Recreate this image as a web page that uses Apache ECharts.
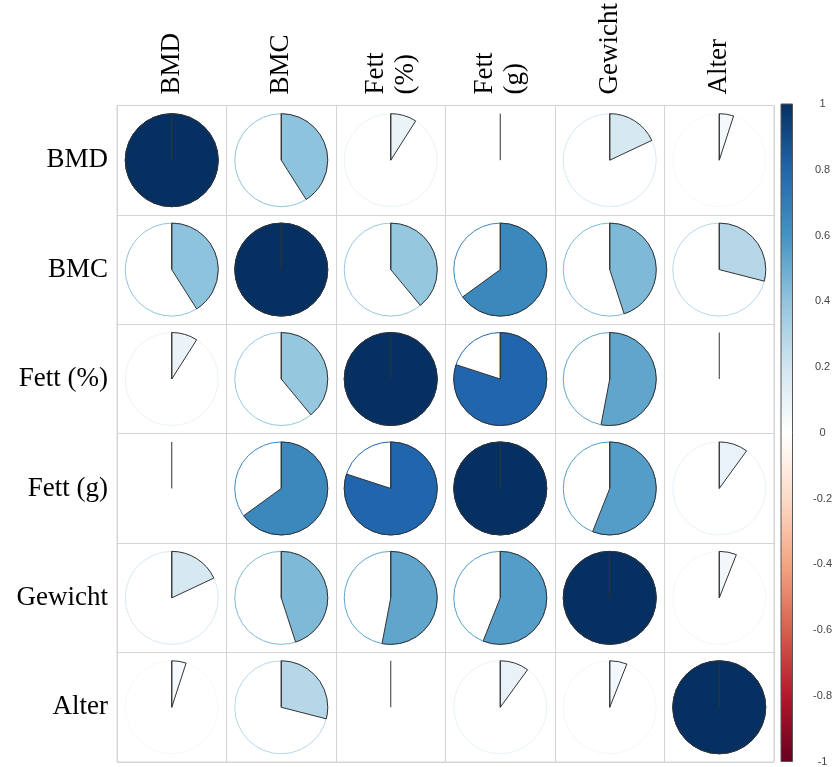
<!DOCTYPE html>
<html>
<head>
<meta charset="utf-8">
<script src="https://cdn.jsdelivr.net/npm/echarts@6/dist/echarts.min.js"></script>
<style>
  html, body { margin: 0; padding: 0; background: #fff; }
  #main { width: 835px; height: 767px; }
</style>
</head>
<body>
<div id="main"></div>
<script>
// variables (rows top to bottom, columns left to right)
var rowLabels = ['BMD', 'BMC', 'Fett (%)', 'Fett (g)', 'Gewicht', 'Alter']
var colLabels = ['BMD', 'BMC', 'Fett\n(%)', 'Fett\n(g)', 'Gewicht', 'Alter']

// correlations
var corBMD     = [1.00, 0.41, 0.09, 0.00, 0.18, 0.05]
var corBMC     = [0.41, 1.00, 0.39, 0.65, 0.45, 0.29]
var corFettPct = [0.09, 0.39, 1.00, 0.80, 0.53, 0.00]
var corFettG   = [0.00, 0.65, 0.80, 1.00, 0.56, 0.10]
var corGewicht = [0.18, 0.45, 0.53, 0.56, 1.00, 0.06]
var corAlter   = [0.05, 0.29, 0.00, 0.10, 0.06, 1.00]

// RdBu palette, -1 .. 1
var palette = ['#67001F', '#B2182B', '#D6604D', '#F4A582', '#FDDBC7', '#FFFFFF',
               '#D1E5F0', '#92C5DE', '#4393C3', '#2166AC', '#053061']

var rows = [corBMD, corBMC, corFettPct, corFettG, corGewicht, corAlter]
var cells = []
rows.forEach(function (row, i) {
    row.forEach(function (v, j) {
        cells.push([j, i, v])
    })
})

var serif = '"Liberation Serif", "Times New Roman", serif'

var myChart = echarts.init(document.getElementById('main'))
myChart.setOption({
    animation: false,
    grid: [
        { left: 117, top: 104, width: 657, height: 658, show: true, borderColor: '#d4d4d4', borderWidth: 1 },
        { left: 781, top: 104, width: 22, height: 658 }
    ],
    visualMap: {
        show: false,
        type: 'continuous',
        min: -1,
        max: 1,
        dimension: 2,
        seriesIndex: 0,
        inRange: { color: palette }
    },
    xAxis: [{
        gridIndex: 0,
        type: 'category',
        position: 'top',
        data: colLabels,
        axisLine: { show: false },
        axisTick: { show: false },
        splitLine: { show: true, lineStyle: { color: '#d4d4d4', width: 1 } },
        axisLabel: {
            rotate: -90,
            margin: 11,
            fontFamily: serif,
            fontSize: 27,
            lineHeight: 30,
            color: '#000'
        }
    }, {
        gridIndex: 1,
        type: 'value',
        min: 0,
        max: 1,
        show: false
    }],
    yAxis: [{
        gridIndex: 0,
        type: 'category',
        inverse: true,
        data: rowLabels,
        axisLine: { show: false },
        axisTick: { show: false },
        splitLine: { show: true, lineStyle: { color: '#d4d4d4', width: 1 } },
        axisLabel: {
            margin: 9,
            fontFamily: serif,
            fontSize: 27,
            color: '#000'
        }
    }, {
        gridIndex: 1,
        type: 'value',
        position: 'right',
        min: -1,
        max: 1,
        interval: 0.2,
        splitLine: { show: false },
        axisLine: { show: false },
        axisTick: { show: true, length: 5, lineStyle: { color: '#444' } },
        axisLabel: {
            margin: 30,
            align: 'center',
            fontSize: 11,
            color: '#444',
            fontFamily: 'Arial, "Liberation Sans", sans-serif'
        }
    }],
    series: [{
        type: 'custom',
        xAxisIndex: 0,
        yAxisIndex: 0,
        data: cells,
        renderItem: function (params, api) {
            var c = api.coord([api.value(0), api.value(1)])
            var size = api.size([1, 1])
            var r = Math.min(size[0], size[1]) * 0.425
            var v = api.value(2)
            var col = api.visual('color')
            var start = -Math.PI / 2
            var end = start + 2 * Math.PI * Math.abs(v)
            var children = [{
                type: 'circle',
                shape: { cx: c[0], cy: c[1], r: r },
                style: { fill: '#fff', stroke: col, lineWidth: 1 }
            }]
            if (Math.abs(v) > 0.001) {
                children.push({
                    type: 'sector',
                    shape: { cx: c[0], cy: c[1], r0: 0, r: r, startAngle: start, endAngle: end, clockwise: v > 0 },
                    style: { fill: col, stroke: '#333', lineWidth: 1 }
                })
            }
            children.push({
                type: 'line',
                shape: { x1: c[0], y1: c[1], x2: c[0], y2: c[1] - r },
                style: { stroke: '#333', lineWidth: 1 }
            })
            return { type: 'group', children: children }
        }
    }, {
        // colour legend bar
        type: 'custom',
        xAxisIndex: 1,
        yAxisIndex: 1,
        data: [[0, -1, 1, 1]],
        renderItem: function (params, api) {
            var p1 = api.coord([0, 1])
            var p2 = api.coord([1, -1])
            var stops = palette.map(function (c, k) {
                return { offset: 1 - k / (palette.length - 1), color: c }
            })
            return {
                type: 'rect',
                shape: { x: p1[0], y: p1[1], width: p2[0] - p1[0], height: p2[1] - p1[1] },
                style: {
                    fill: new echarts.graphic.LinearGradient(0, 0, 0, 1, stops),
                    stroke: '#555',
                    lineWidth: 1
                }
            }
        }
    }]
})
</script>
</body>
</html>
